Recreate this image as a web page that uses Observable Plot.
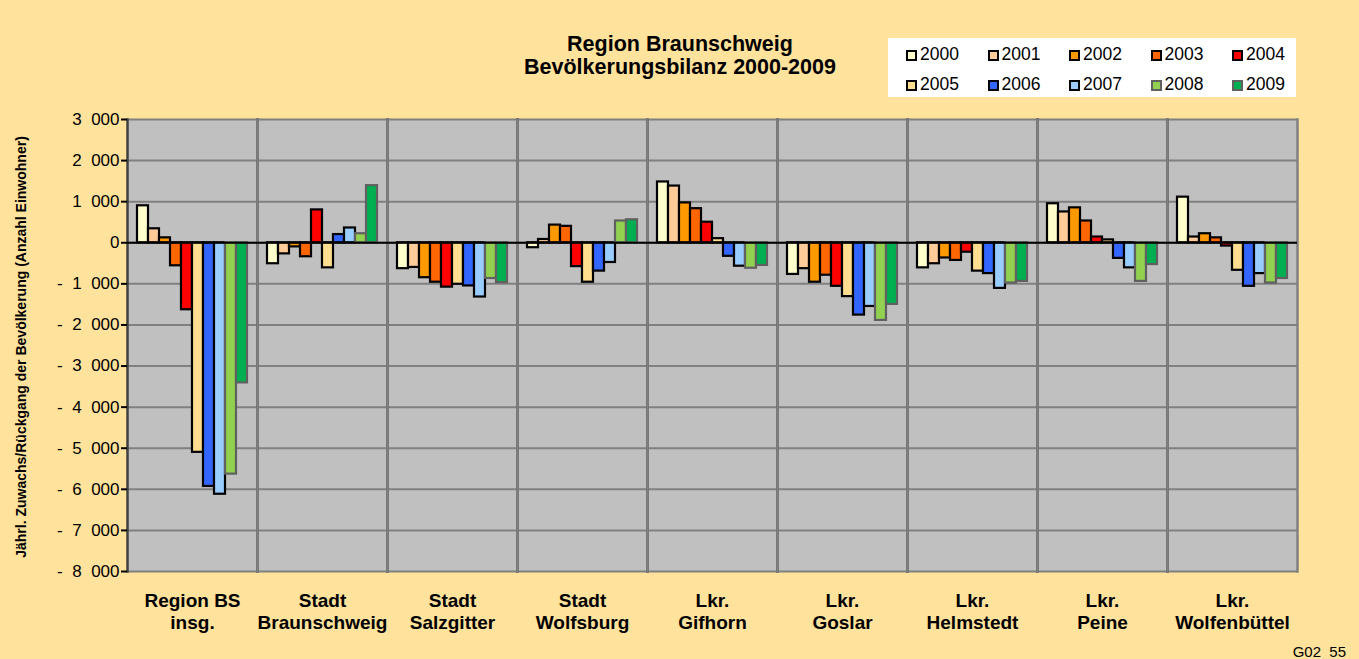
<!DOCTYPE html>
<html>
<head>
<meta charset="utf-8">
<script src="https://cdn.jsdelivr.net/npm/d3@7"></script>
<script src="https://cdn.jsdelivr.net/npm/@observablehq/plot@0.6"></script>
<style>
  html, body { margin: 0; padding: 0; }
  #wrap { position: relative; width: 1359px; height: 659px; background: #FFE29C; overflow: hidden; font-family: Arial, "Liberation Sans", sans-serif; }
  #wrap svg { position: absolute; left: 0; top: 0; }
  .title { position: absolute; left: 430px; width: 500px; text-align: center; font-weight: bold; font-size: 21.5px; line-height: 23px; top: 33px; color: #000; }
  .legend { position: absolute; left: 888px; top: 38px; width: 408px; height: 59px; background: #fff; }
  .item { position: absolute; font-size: 17.5px; line-height: 17px; color: #000; }
  .sw { position: absolute; width: 7px; height: 7px; border: 2px solid #000; left: 0; top: 4px; }
  .ylab { position: absolute; left: 21px; top: 347px; transform: translate(-50%, -50%) rotate(-90deg); white-space: nowrap; font-size: 14px; font-weight: bold; color: #000; }
  .foot { position: absolute; right: 13px; top: 643px; font-size: 15px; color: #000; }
</style>
</head>
<body>
<div id="wrap"></div>
<script>
// ---- data ----
const regions = ["Region BS\ninsg.", "Stadt\nBraunschweig", "Stadt\nSalzgitter", "Stadt\nWolfsburg", "Lkr.\nGifhorn", "Lkr.\nGoslar", "Lkr.\nHelmstedt", "Lkr.\nPeine", "Lkr.\nWolfenbüttel"];
const years = ["2000", "2001", "2002", "2003", "2004", "2005", "2006", "2007", "2008", "2009"];
const yearFill = ["#FFFFCC", "#FFCC99", "#FF9900", "#FF6600", "#FF0000", "#FFDF8F", "#3366FF", "#99CCFF", "#92D050", "#00B050"];
const yearStroke = ["#000000", "#000000", "#000000", "#000000", "#000000", "#000000", "#000000", "#000000", "#606060", "#606060"];

const regionBS      = [900, 340, 120, -560, -1630, -5100, -5930, -6120, -5630, -3410];
const braunschweig  = [-510, -270, -100, -340, 800, -610, 200, 360, 220, 1390];
const salzgitter    = [-630, -600, -850, -960, -1080, -1010, -1050, -1320, -870, -970];
const wolfsburg     = [-120, 80, 430, 400, -580, -960, -690, -480, 530, 560];
const gifhorn       = [1480, 1380, 970, 830, 500, 100, -330, -570, -620, -550];
const goslar        = [-770, -630, -960, -790, -1060, -1310, -1760, -1550, -1890, -1500];
const helmstedt     = [-610, -510, -370, -430, -230, -690, -750, -1110, -980, -940];
const peine         = [950, 750, 850, 530, 140, 70, -380, -610, -940, -530];
const wolfenbuettel = [1110, 140, 220, 120, -80, -670, -1060, -750, -980, -870];

const series = [regionBS, braunschweig, salzgitter, wolfsburg, gifhorn, goslar, helmstedt, peine, wolfenbuettel];
const yTicks = d3.range(-8000, 3001, 1000);

const data = [];
regions.forEach((r, i) => years.forEach((y, j) => data.push({
  region: r, year: y, value: series[i][j], fill: yearFill[j], stroke: yearStroke[j]
})));

const fmt = d => {
  if (d === 0) return "0";
  const s = d3.format(",")(Math.abs(d)).replace(/,/g, "\u2007");
  return (d < 0 ? "-\u2007" : "") + s;
};

const chart = Plot.plot({
  width: 1359,
  height: 659,
  marginTop: 119,
  marginBottom: 88,
  marginLeft: 126,
  marginRight: 62,
  style: { background: "transparent", fontFamily: "Arial, 'Liberation Sans', sans-serif", color: "#000" },
  fx: { domain: regions, padding: 0, label: null },
  x: { type: "band", domain: years, paddingInner: 0, paddingOuter: 0.7, axis: null },
  y: { domain: [-8000, 3000], label: null, axis: null },
  color: { type: "identity" },
  marks: [
    Plot.frame({ fill: "#C0C0C0" }),
    Plot.gridY(yTicks, { stroke: "#808080", strokeOpacity: 1, strokeWidth: 2 }),
    Plot.frame({ anchor: "left", stroke: "#404040", strokeWidth: 2.5 }),
    Plot.frame({ anchor: "right", stroke: "#808080", strokeWidth: 2.5 }),
    Plot.barY(data, { fx: "region", x: "year", y: "value", fill: "fill", stroke: "stroke", strokeWidth: 2.2 }),
    Plot.ruleY([0], { stroke: "#000", strokeWidth: 2 }),
    Plot.axisY(yTicks, { tickFormat: fmt, fontSize: 17, tickSize: 6, tickPadding: 2, stroke: "#000", strokeWidth: 2, label: null }),
    Plot.axisFx({ anchor: "bottom", tickSize: 0, tickPadding: 20, fontSize: 19, fontWeight: "bold", label: null, lineHeight: 1.15 })
  ]
});

const wrap = document.getElementById("wrap");
wrap.appendChild(chart);

const title = document.createElement("div");
title.className = "title";
title.innerHTML = "Region Braunschweig<br>Bevölkerungsbilanz 2000-2009";
wrap.appendChild(title);

const legend = document.createElement("div");
legend.className = "legend";
years.forEach((y, j) => {
  const col = j % 5, row = Math.floor(j / 5);
  const it = document.createElement("div");
  it.className = "item";
  it.style.left = (18 + col * 81.5) + "px";
  it.style.top = (8 + row * 30) + "px";
  it.style.paddingLeft = "14px";
  const sw = document.createElement("div");
  sw.className = "sw";
  sw.style.background = yearFill[j];
  sw.style.borderColor = yearStroke[j];
  it.appendChild(sw);
  it.appendChild(document.createTextNode(y));
  legend.appendChild(it);
});
wrap.appendChild(legend);

const ylab = document.createElement("div");
ylab.className = "ylab";
ylab.textContent = "Jährl. Zuwachs/Rückgang der Bevölkerung (Anzahl Einwohner)";
wrap.appendChild(ylab);

const foot = document.createElement("div");
foot.className = "foot";
foot.textContent = "G02\u00a0\u00a055";
wrap.appendChild(foot);
</script>
</body>
</html>
